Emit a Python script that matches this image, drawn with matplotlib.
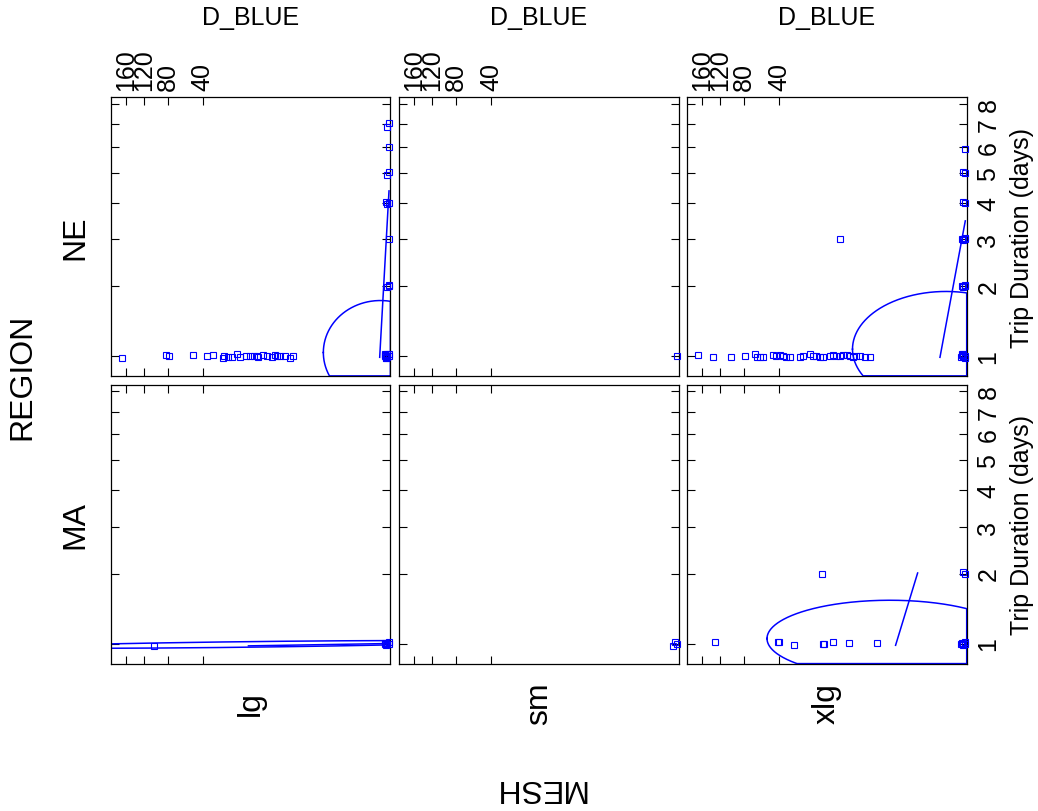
import numpy as np
import matplotlib
matplotlib.use("Agg")
import matplotlib.pyplot as plt

plt.rcParams["font.family"] = ["Liberation Sans", "DejaVu Sans"]

W, H = 1038, 812

regions = ["NE", "MA"]
meshes = ["lg", "sm", "xlg"]
x_ticks = [40, 80, 120, 160]
y_ticks = [1, 2, 3, 4, 5, 6, 7, 8]

# NE / lg
ne_lg_x = [0, 1e-6, 5e-6, 1e-5, 2e-6, 0, 3e-6, 8e-6, 1e-6, 4e-6,
           0, 1e-6, 0, 0, 0, 2e-6, 1e-6, 0, 1e-6, 0, 0, 1e-6,
           168.7, 82.8, 78.0, 48.8, 36.7, 32.1, 25.6, 24.4, 22.5, 20.0, 17.6, 16.4, 14.0,
           12.6, 11.2, 10.2, 9.7, 8.3, 7.4, 6.3, 5.6, 5.3, 4.7, 3.9, 3.2, 2.8]
ne_lg_y = [1.0, 0.99, 1.01, 1.0, 0.98, 1.02, 0.975, 1.015, 1.025, 0.985,
           2.0, 1.98, 2.02, 3.0, 4.0, 4.03, 3.97, 5.02, 4.91, 6.0, 7.04, 6.86,
           0.972, 1.011, 0.994, 1.011, 1.0, 1.011, 0.972, 1.0, 0.983, 0.983, 1.018, 0.983, 0.994,
           1.0, 1.0, 1.0, 0.983, 1.011, 0.994, 0.983, 1.011, 0.994, 0.994, 0.994, 0.972, 1.0]

# NE / sm
ne_sm_x = [0]
ne_sm_y = [1.0]

# NE / xlg
ne_xlg_x = [0, 1e-6, 5e-6, 0, 2e-6, 1e-6, 8e-6, 3e-6,
            0, 1e-6, 0, 2e-6, 5e-6,
            0, 1e-6, 0, 2e-6, 5e-6,
            0, 1e-6, 0, 1e-6, 0,
            8.27,
            170.4, 135.2, 99.8, 79.0, 65.6, 62.8, 59.6, 55.8, 45.6, 42.4, 39.5, 36.8, 34.1,
            31.7, 25.0, 23.1, 19.5, 17.9, 16.4, 14.9, 13.6, 11.2, 10.2, 9.2, 8.3, 7.4, 6.6,
            5.9, 5.3, 4.7, 4.1, 3.4, 2.8]
ne_xlg_y = [1.0, 0.99, 1.01, 0.98, 1.02, 1.0, 0.985, 1.015,
            2.0, 1.98, 2.02, 2.0, 1.99,
            3.0, 2.98, 3.02, 3.0, 2.99,
            4.0, 4.03, 4.98, 5.01, 5.9,
            3.0,
            1.011, 0.99, 0.99, 1.0, 1.018, 0.983, 0.983, 0.983, 1.011, 1.0, 1.011, 1.0, 0.983,
            0.983, 0.99, 1.0, 1.018, 1.0, 1.0, 0.99, 0.99, 1.0, 1.011, 1.0, 1.0, 1.011, 1.011,
            1.0, 0.99, 1.0, 1.0, 0.99, 0.983]

# MA / lg
ma_lg_x = [0, 1e-6, 5e-6, 0, 2e-6, 8e-6, 101.0]
ma_lg_y = [1.0, 0.99, 1.01, 1.02, 0.98, 1.0, 0.975]

# MA / sm
ma_sm_x = [1e-5, 0, 2e-6]
ma_sm_y = [0.97, 1.0, 1.02]

# MA / xlg
ma_xlg_x = [0, 1e-6, 5e-6, 0, 2e-6, 8e-6, 0, 1e-6, 14.0,
            130.2, 41.0, 40.1, 28.7, 13.6, 13.4, 10.2, 6.07, 2.07]
ma_xlg_y = [1.0, 0.99, 1.01, 1.02, 0.98, 1.0, 2.0, 2.02, 2.0,
            1.018, 1.018, 1.018, 0.982, 1.0, 0.99, 1.018, 1.006, 1.01]

points = {
    ("NE", "lg"): (ne_lg_x, ne_lg_y),
    ("NE", "sm"): (ne_sm_x, ne_sm_y),
    ("NE", "xlg"): (ne_xlg_x, ne_xlg_y),
    ("MA", "lg"): (ma_lg_x, ma_lg_y),
    ("MA", "sm"): (ma_sm_x, ma_sm_y),
    ("MA", "xlg"): (ma_xlg_x, ma_xlg_y),
}

# data ellipses in fourth-root units: centre x, centre y, radius x, radius y, tilt
ellipses = {
    ("NE", "lg"): (0.116, 1.009, 0.771, 0.1405, 0.0),
    ("NE", "xlg"): (0.261, 1.018, 1.263, 0.156, 0.0),
    ("MA", "lg"): (1.9, 0.9976, 3.0, 0.0075, -0.00238),
    ("MA", "xlg"): (1.019, 1.0135, 1.660, 0.1035, 0.0),
}

# fitted lines: x start, y start, x end, y end
fit_lines = {
    ("NE", "lg"): (0.00025, 0.984, 0.0, 4.37),
    ("NE", "xlg"): (0.0137, 0.984, 0.0, 3.47),
    ("MA", "lg"): (13.0, 0.975, 0.0, 1.0),
    ("MA", "xlg"): (0.787, 0.981, 0.172, 2.01),
}

BLUE = "#0000FF"
XLIM = (199.0, -1.3e-7)
YLIM = (0.80, 8.33)


def fwd(v):
    v = np.asarray(v, dtype=float)
    return np.sign(v) * np.abs(v) ** 0.25


def inv(t):
    t = np.asarray(t, dtype=float)
    return np.sign(t) * np.abs(t) ** 4


fig = plt.figure(figsize=(W / 100, H / 100), dpi=100)

col_left = [111, 399.3, 687.3]
row_top = [98.3, 386]
pw, ph = 279.4, 278.6

for r, region in enumerate(regions):
    for c, mesh in enumerate(meshes):
        x0, y0 = col_left[c], row_top[r]
        ax = fig.add_axes([x0 / W, 1 - (y0 + ph) / H, pw / W, ph / H])
        ax.set_xscale("function", functions=(fwd, inv))
        ax.set_yscale("function", functions=(fwd, inv))
        ax.set_xlim(*XLIM)
        ax.set_ylim(*YLIM)
        ax.set_xticks(x_ticks)
        ax.set_yticks(y_ticks)
        ax.minorticks_off()
        for s in ax.spines.values():
            s.set_linewidth(0.9)
        ax.tick_params(direction="in", length=6, width=0.8, top=True, bottom=True,
                       left=True, right=True, labelsize=18,
                       labelbottom=False, labelleft=False,
                       labeltop=(r == 0), labelright=(c == 2))
        ax.tick_params(axis="x", labelrotation=90, pad=5)
        ax.tick_params(axis="y", labelrotation=90, pad=7)
        for lab in ax.get_yticklabels():
            lab.set_va("center")

        key = (region, mesh)
        px, py = points[key]
        ax.plot(px, py, "s", ms=4, mfc="none", mec=BLUE, mew=0.8, clip_on=False, zorder=3)

        if key in ellipses:
            cx, cy, rx, ry, tilt = ellipses[key]
            phi = np.linspace(0, 2 * np.pi, 721)
            tx = cx + rx * np.cos(phi)
            ty = cy + ry * np.sin(phi) + tilt * (tx - cx)
            tx = np.clip(tx, fwd(XLIM[1]), fwd(XLIM[0]))
            ty = np.clip(ty, fwd(YLIM[0]), fwd(YLIM[1]))
            ax.plot(inv(tx), inv(ty), color=BLUE, lw=1.1)

        if key in fit_lines:
            xa, ya, xb, yb = fit_lines[key]
            ax.plot([xa, xb], [ya, yb], color=BLUE, lw=1.1)


def ftext(x, y, s, **kw):
    fig.text(x / W, 1 - y / H, s, ha="center", va="center", **kw)


for c in range(3):
    ftext(col_left[c] + pw / 2, 18, "D_BLUE", fontsize=18)
    ftext(col_left[c] + pw / 2, 704, meshes[c], fontsize=23, rotation=90)

for r in range(2):
    ftext(75, row_top[r] + ph / 2, regions[r], fontsize=23, rotation=90)
    ftext(1022, row_top[r] + ph / 2, "Trip Duration (days)", fontsize=18, rotation=90)

ftext(22, 377, "REGION", fontsize=23, rotation=90)
ftext(539, 788, "MESH", fontsize=23, rotation=180)

fig.savefig("out.png", dpi=100)
